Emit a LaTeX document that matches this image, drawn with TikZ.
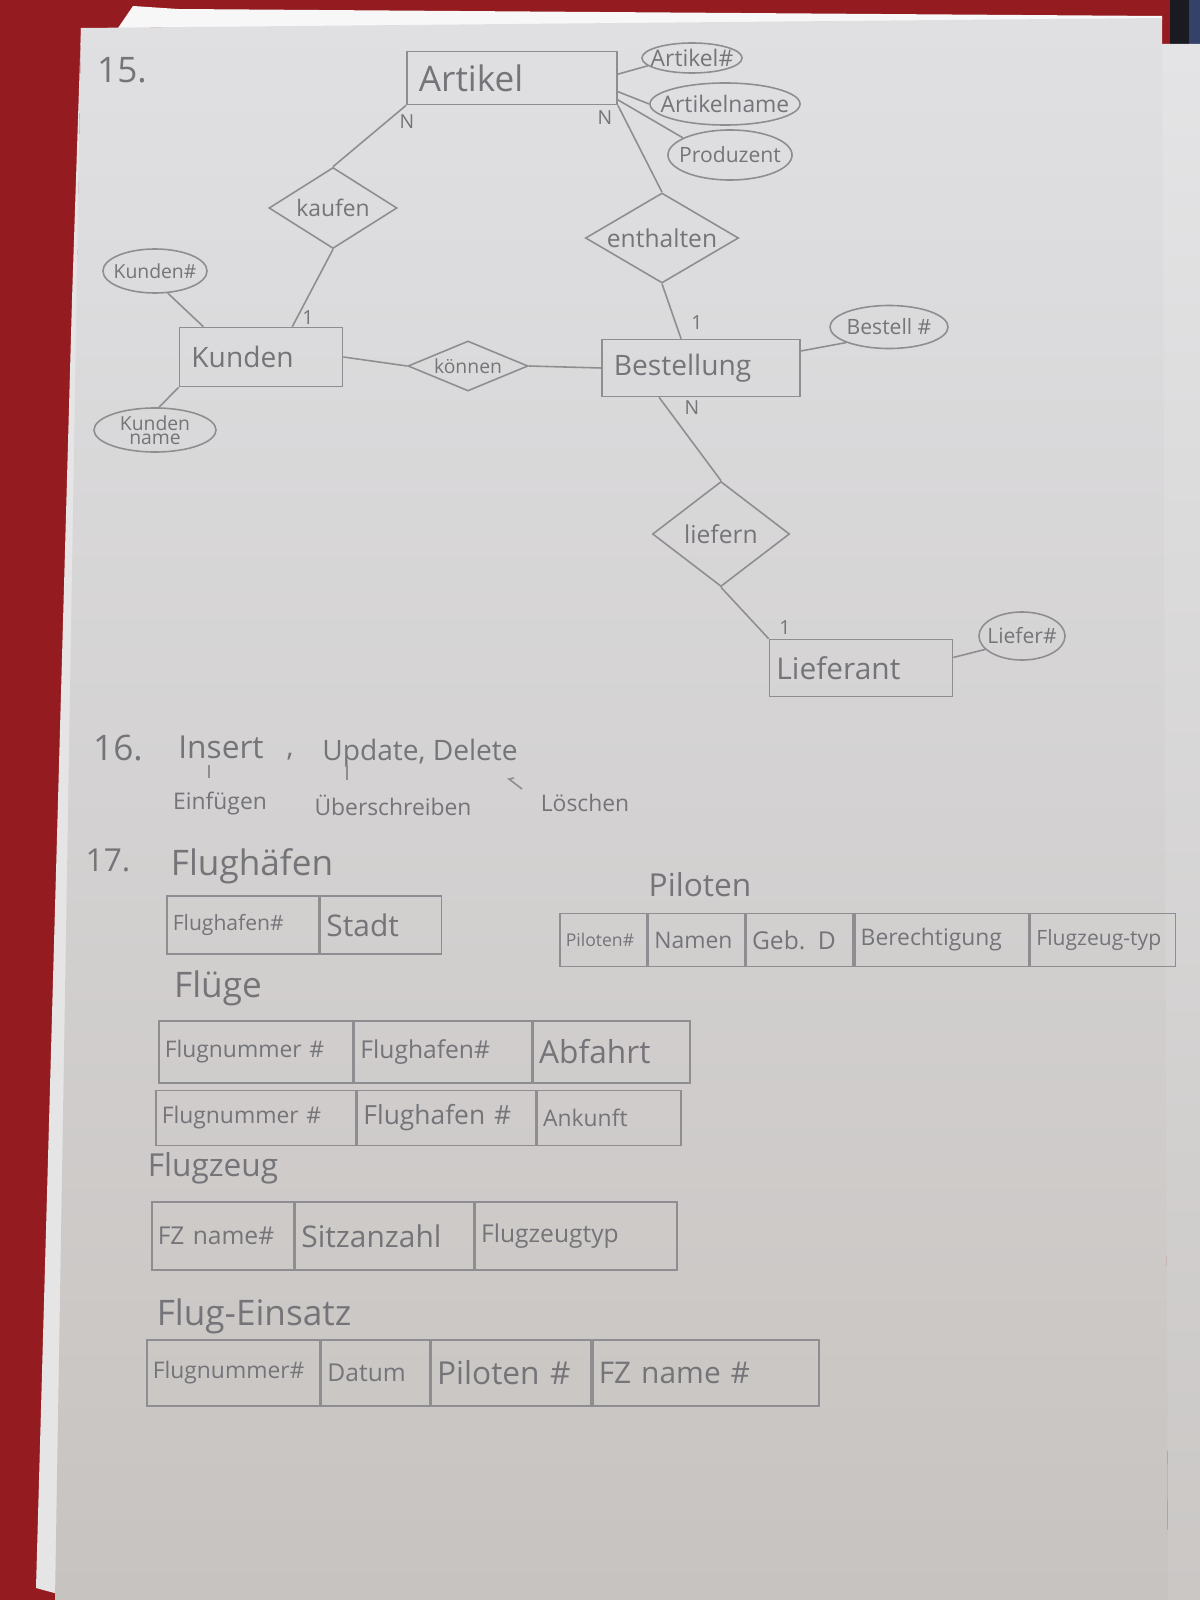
\documentclass[tikz,border=0pt]{standalone}
\usepackage{fontspec}
\setmainfont{Open Sans}
\usetikzlibrary{shapes.geometric,calc}
\definecolor{desk}{RGB}{148,28,32}
\definecolor{paperTop}{RGB}{224,224,227}
\definecolor{paperBot}{RGB}{199,195,192}
\definecolor{sheetTop}{RGB}{228,228,230}
\definecolor{sheetBot}{RGB}{202,199,197}
\definecolor{pencil}{RGB}{142,142,146}
\definecolor{pencilText}{RGB}{116,116,121}
\definecolor{darkcorner}{RGB}{26,26,34}
\definecolor{bluecorner}{RGB}{52,66,105}
\newcommand{\fs}[1]{\fontsize{#1}{#1}\selectfont}

\begin{document}
\begin{tikzpicture}[x=0.01cm,y=-0.01cm,
  every node/.style={text=pencilText},
  line/.style={draw=pencil,line width=0.45pt},
  entity/.style={draw=pencil,line width=0.45pt,rectangle,inner xsep=0.12cm,inner ysep=0pt,align=left},
  relation/.style={draw=pencil,line width=0.45pt,diamond,inner sep=0pt},
  attrib/.style={draw=pencil,line width=0.45pt,ellipse,inner sep=0pt},
  card/.style={font=\fs{5.5}},
  cell/.style={draw=pencil,line width=0.45pt,rectangle,anchor=west,inner xsep=0.06cm,inner ysep=0pt,align=left},
  heading/.style={font=\fs{10}},
]
\useasboundingbox (0,0) rectangle (1200,1600);

% desk, neighbouring sheets and the page
\fill[desk] (0,0) rectangle (1200,1600);
\fill[darkcorner] (1170,0) rectangle (1200,46);
\fill[bluecorner] (1189,0) rectangle (1200,46);
\shade[top color=sheetTop,bottom color=sheetBot] (1160,44) -- (1200,44) -- (1200,1600) -- (1168,1600) -- cycle;
\fill[white!80!gray] (81,28) -- (72,300) -- (36,1588) -- (58,1594) -- cycle;
\fill[white!94!gray] (118,28) -- (133,6) -- (178,9) -- (1162,16) -- (1162,20) -- cycle;
\shade[top color=paperTop,bottom color=paperBot] (81,28) -- (1162,18) -- (1168,1600) -- (55,1600) -- cycle;

% ---------------- 15: ER diagram ----------------
\node[heading] (n15) at (122,70) {15.};

\node[entity,font=\fs{10},text width=1.86cm,minimum height=0.53cm] (artikel) at (512,78) {Artikel};
\node[entity,font=\fs{8},text width=1.39cm,minimum height=0.59cm] (kunden) at (261,357) {Kunden};
\node[entity,font=\fs{8},text width=1.74cm,minimum height=0.57cm] (bestellung) at (701,368) {Bestellung};
\node[entity,font=\fs{8.5},inner xsep=0.07cm,text width=1.69cm,minimum height=0.57cm] (lieferant) at (861,668) {Lieferant};

\node[relation,font=\fs{6.5},aspect=1.58,minimum width=1.28cm,minimum height=0.81cm] (kaufen) at (333,208) {kaufen};
\node[relation,font=\fs{7},aspect=1.7,minimum width=1.53cm,minimum height=0.90cm] (enthalten) at (662,238) {enthalten};
\node[relation,font=\fs{5.5},aspect=2.4,minimum width=1.20cm,minimum height=0.50cm] (koennen) at (468,366) {können};
\node[relation,font=\fs{7},aspect=1.3,minimum width=1.37cm,minimum height=1.05cm] (liefern) at (721,534) {liefern};

\node[attrib,minimum width=1.00cm,minimum height=0.30cm] (artnr) at (692,58) {};
\node[font=\fs{6.5}] (artnr-t) at (artnr) {Artikel\#};
\node[attrib,minimum width=1.50cm,minimum height=0.42cm] (artname) at (725,104) {};
\node[font=\fs{6.5}] (artname-t) at (artname) {Artikelname};
\node[attrib,minimum width=1.24cm,minimum height=0.50cm] (produzent) at (730,155) {};
\node[font=\fs{6}] (produzent-t) at (produzent) {Produzent};
\node[attrib,minimum width=1.04cm,minimum height=0.44cm] (kundennr) at (155,271) {};
\node[font=\fs{5.5}] (kundennr-t) at (kundennr) {Kunden\#};
\node[attrib,minimum width=1.22cm,minimum height=0.44cm] (kundenname) at (155,430) {};
\node[font=\fs{5.5},align=center] (kundenname-t) at (kundenname) {Kunden\\[-1.5pt]name};
\node[attrib,minimum width=1.18cm,minimum height=0.43cm] (bestellnr) at (889,327) {};
\node[font=\fs{6}] (bestellnr-t) at (bestellnr) {Bestell \#};
\node[attrib,minimum width=0.86cm,minimum height=0.48cm] (liefernr) at (1022,636) {};
\node[font=\fs{6}] (liefernr-t) at (liefernr) {Liefer\#};

\node[card] (c1) at (407,122) {N};
\node[card] (c2) at (605,118) {N};
\node[card] (c3) at (308,318) {1};
\node[card] (c4) at (697,323) {1};
\node[card] (c5) at (692,408) {N};
\node[card] (c6) at (785,628) {1};

\draw[line] (artikel.south west) -- (kaufen.north);
\draw[line] (kaufen.south) -- ($(kunden.north west)!0.69!(kunden.north east)$);
\draw[line] (artikel.south east) -- (enthalten.north);
\draw[line] (enthalten.south) -- ($(bestellung.north west)!0.40!(bestellung.north east)$);
\draw[line] (kunden.east) -- (koennen.west);
\draw[line] (koennen.east) -- (bestellung.west);
\draw[line] ($(bestellung.south west)!0.29!(bestellung.south east)$) -- (liefern.north);
\draw[line] (liefern.south) -- (lieferant.north west);
\draw[line] ($(artikel.north east)!0.43!(artikel.south east)$) -- (artnr.190);
\draw[line] ($(artikel.north east)!0.75!(artikel.south east)$) -- (artname.180);
\draw[line] ($(artikel.north east)!0.90!(artikel.south east)$) -- (produzent.160);
\draw[line] ($(kunden.north west)!0.15!(kunden.north east)$) -- (kundennr.300);
\draw[line] (kunden.south west) -- (kundenname.80);
\draw[line] ($(bestellung.north east)!0.21!(bestellung.south east)$) -- (bestellnr.200);
\draw[line] ($(lieferant.north east)!0.32!(lieferant.south east)$) -- (liefernr.200);

% ---------------- 16: SQL operations ----------------
\node[heading] (n16) at (118,748) {16.};
\node[font=\fs{9}] (insert) at (221,747) {Insert};
\node[font=\fs{8}] (comma) at (290,757) {,};
\node[font=\fs{8}] (upddel) at (420,753) {Update, Delete};
\node[font=\fs{6.5}] (einfuegen) at (220,803) {Einfügen};
\node[font=\fs{6.5}] (ueberschr) at (393,805) {Überschreiben};
\node[font=\fs{6.5}] (loeschen) at (585,803) {Löschen};
\coordinate (t1a) at (209,765); \coordinate (t1b) at (209,778);
\coordinate (t2a) at (347,765); \coordinate (t2b) at (347,780);
\coordinate (t3a) at (522,789); \coordinate (t3b) at (509,779); \coordinate (t3c) at (514,778);
\draw[line] (t1a) -- (t1b);
\draw[line] (t2a) -- (t2b);
\draw[line] (t3a) -- (t3b) -- (t3c);

% ---------------- 17: relations ----------------
\node[font=\fs{9}] (n17) at (108,860) {17.};

\node[heading] (flughaefen) at (252,866) {Flughäfen};
\node[cell,font=\fs{6},text width=1.40cm,minimum height=0.58cm] (fh1) at (166,925) {Flughafen\#};
\node[cell,font=\fs{8.5},text width=1.09cm,minimum height=0.58cm] (fh2) at (fh1.east) {Stadt};

\node[font=\fs{9}] (piloten) at (700,885) {Piloten};
\node[cell,font=\fs{5},text width=0.75cm,minimum height=0.53cm] (pi1) at (559,940) {Piloten\#};
\node[cell,font=\fs{6.5},text width=0.84cm,minimum height=0.53cm] (pi2) at (pi1.east) {Namen};
\node[cell,font=\fs{7},text width=0.95cm,minimum height=0.53cm] (pi3) at (pi2.east) {Geb. D};
\node[cell,font=\fs{6.5},text width=1.62cm,minimum height=0.53cm] (pi4) at (pi3.east) {Berechtigung};
\node[cell,font=\fs{6},text width=1.33cm,minimum height=0.53cm] (pi5) at (pi4.east) {Flugzeug-typ};

\node[heading] (fluege) at (218,988) {Flüge};
\node[cell,font=\fs{6.5},text width=1.82cm,minimum height=0.62cm] (fa1) at (158,1052) {Flugnummer \#};
\node[cell,font=\fs{7},text width=1.65cm,minimum height=0.62cm] (fa2) at (fa1.east) {Flughafen\#};
\node[cell,font=\fs{9},text width=1.45cm,minimum height=0.62cm] (fa3) at (fa2.east) {Abfahrt};
\node[cell,font=\fs{6.5},text width=1.88cm,minimum height=0.55cm] (fb1) at (155,1118) {Flugnummer \#};
\node[cell,font=\fs{7.5},text width=1.66cm,minimum height=0.55cm] (fb2) at (fb1.east) {Flughafen \#};
\node[cell,font=\fs{6.5},text width=1.32cm,minimum height=0.55cm] (fb3) at (fb2.east) {Ankunft};

\node[font=\fs{9}] (flugzeug) at (213,1168) {Flugzeug};
\node[cell,font=\fs{7},text width=1.30cm,minimum height=0.68cm] (fz1) at (151,1236) {FZ name\#};
\node[cell,font=\fs{8.5},text width=1.66cm,minimum height=0.68cm] (fz2) at (fz1.east) {Sitzanzahl};
\node[cell,font=\fs{7},text width=1.90cm,minimum height=0.68cm] (fz3) at (fz2.east) {Flugzeugtyp};

\node[heading] (einsatz) at (254,1316) {Flug-Einsatz};
\node[cell,font=\fs{6.5},text width=1.61cm,minimum height=0.66cm] (fe1) at (146,1373) {Flugnummer\#};
\node[cell,font=\fs{7},text width=0.96cm,minimum height=0.66cm] (fe2) at (fe1.east) {Datum};
\node[cell,font=\fs{9},text width=1.48cm,minimum height=0.66cm] (fe3) at (fe2.east) {Piloten \#};
\node[cell,font=\fs{8.5},text width=2.14cm,minimum height=0.66cm] (fe4) at (fe3.east) {FZ name \#};
\end{tikzpicture}
\end{document}
